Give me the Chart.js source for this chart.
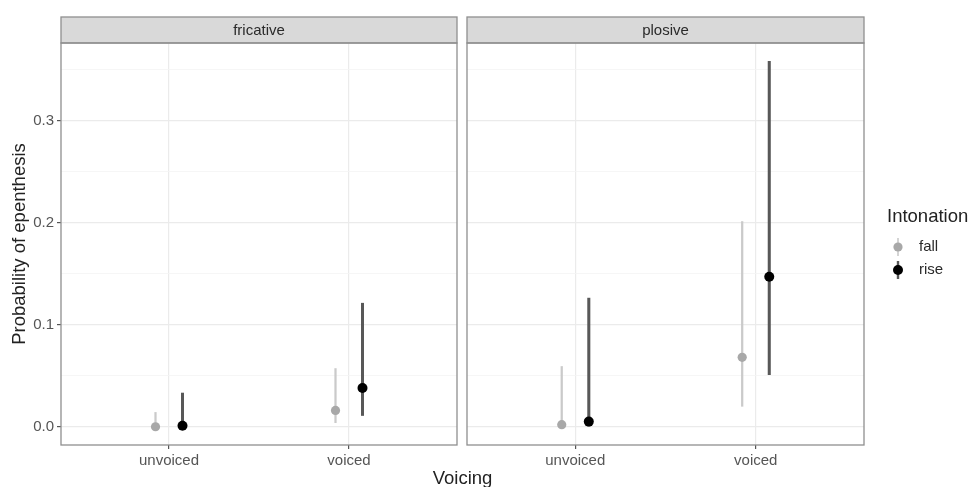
<!DOCTYPE html>
<html>
<head>
<meta charset="utf-8">
<script src="https://cdn.jsdelivr.net/npm/chart.js@4.4.1/dist/chart.umd.min.js"></script>
<style>
  html, body { margin: 0; padding: 0; background: #fff; }
  #wrap { position: relative; width: 971px; height: 487px; overflow: hidden;
          font-family: "Liberation Sans", Arial, sans-serif; }
  #wrap canvas { position: absolute; top: 0; }
  #xtitle { position: absolute; left: 0; width: 925px; top: 467px; text-align: center;
            font-size: 18.5px; line-height: 22px; color: #222; }
</style>
</head>
<body>
<div id="wrap">
  <canvas id="fricative" width="462" height="487" style="left:0"></canvas>
  <canvas id="plosive" width="509" height="487" style="left:462px"></canvas>
  <div id="xtitle">Voicing</div>
</div>
<script>
// Categories
const voicing = ['unvoiced', 'voiced'];
const intonation = ['fall', 'rise'];

// Y-axis ticks
const yMajorTicks = [0.0, 0.1, 0.2, 0.3];
const yMinorTicks = [0.05, 0.15, 0.25, 0.35];

// Fricatives: estimate and interval per voicing level
const fricativeFallEst  = [0.000, 0.016];
const fricativeFallLow  = [0.000, 0.004];
const fricativeFallHigh = [0.014, 0.057];
const fricativeRiseEst  = [0.001, 0.038];
const fricativeRiseLow  = [0.000, 0.011];
const fricativeRiseHigh = [0.033, 0.121];

// Plosives
const plosiveFallEst  = [0.002, 0.068];
const plosiveFallLow  = [0.000, 0.020];
const plosiveFallHigh = [0.059, 0.201];
const plosiveRiseEst  = [0.005, 0.147];
const plosiveRiseLow  = [0.000, 0.051];
const plosiveRiseHigh = [0.126, 0.358];

const FONT = '"Liberation Sans", Arial, sans-serif';

// Appearance of each intonation group
const groupStyle = {
  fall: { point: '#a8a8a8', line: '#cacaca', lineWidth: 1.6, radius: 4.6, dodge: -0.075 },
  rise: { point: '#000000', line: '#585858', lineWidth: 2.4, radius: 5.0, dodge: 0.075 }
};

const isMajor = v => yMajorTicks.some(m => Math.abs(m - v) < 1e-9);

// Panel frame and facet strip
const facetPlugin = {
  id: 'facet',
  afterDraw(chart, args, opts) {
    const { ctx, chartArea: a } = chart;
    ctx.save();
    // strip
    ctx.fillStyle = '#d9d9d9';
    ctx.fillRect(a.left, 17, a.right - a.left, a.top - 17);
    ctx.strokeStyle = '#8f8f8f';
    ctx.lineWidth = 1.3;
    ctx.strokeRect(a.left, 17, a.right - a.left, a.top - 17);
    ctx.fillStyle = '#2a2a2a';
    ctx.font = '15px ' + FONT;
    ctx.textAlign = 'center';
    ctx.textBaseline = 'middle';
    ctx.fillText(opts.title, (a.left + a.right) / 2, (17 + a.top) / 2 + 0.5);
    // panel border
    ctx.strokeRect(a.left, a.top, a.right - a.left, a.bottom - a.top);
    ctx.restore();
  }
};

// Legend drawn to the right of the last panel
const legendPlugin = {
  id: 'pointrangeLegend',
  afterDraw(chart, args, opts) {
    if (!opts.show) return;
    const { ctx } = chart;
    const x0 = opts.x;
    ctx.save();
    ctx.fillStyle = '#222';
    ctx.font = '18.5px ' + FONT;
    ctx.textAlign = 'left';
    ctx.textBaseline = 'middle';
    ctx.fillText('Intonation', x0, 217);
    intonation.forEach((name, i) => {
      const s = groupStyle[name];
      const y = 247 + i * 23;
      const kx = x0 + 11;
      ctx.strokeStyle = s.line;
      ctx.lineWidth = s.lineWidth;
      ctx.beginPath();
      ctx.moveTo(kx, y - 9);
      ctx.lineTo(kx, y + 9);
      ctx.stroke();
      ctx.fillStyle = s.point;
      ctx.beginPath();
      ctx.arc(kx, y, s.radius, 0, Math.PI * 2);
      ctx.fill();
      ctx.fillStyle = '#2a2a2a';
      ctx.font = '15px ' + FONT;
      ctx.fillText(name, x0 + 32, y);
    });
    ctx.restore();
  }
};

function buildDatasets(series) {
  const points = [], ranges = [];
  series.forEach(sr => {
    const s = groupStyle[sr.name];
    points.push({
      type: 'scatter',
      label: sr.name,
      data: sr.est.map((v, i) => ({ x: i + 1 + s.dodge, y: v })),
      pointRadius: s.radius,
      pointBackgroundColor: s.point,
      pointBorderWidth: 0,
      order: 0
    });
    ranges.push({
      type: 'bar',
      label: sr.name + ' interval',
      data: sr.low.map((lo, i) => ({ x: i + 1 + s.dodge, y: [lo, sr.high[i]] })),
      backgroundColor: s.line,
      borderWidth: 0,
      barThickness: s.lineWidth,
      grouped: false,
      order: 1
    });
  });
  return points.concat(ranges);
}

function makePanel(id, title, series, showY, showLegend) {
  const padLeft = showY ? 0 : 4;
  const padRight = showY ? 4 : 107;
  return new Chart(document.getElementById(id), {
    type: 'scatter',
    data: { datasets: buildDatasets(series) },
    plugins: [facetPlugin, legendPlugin],
    options: {
      responsive: false,
      animation: false,
      layout: { padding: { top: 43, left: padLeft, right: padRight, bottom: 0 } },
      plugins: {
        legend: { display: false },
        tooltip: { enabled: false },
        facet: { title },
        pointrangeLegend: { show: showLegend, x: 425 }
      },
      scales: {
        x: {
          type: 'linear',
          min: 0.4,
          max: 2.6,
          offset: false,
          afterBuildTicks: s => { s.ticks = voicing.map((_, i) => ({ value: i + 1 })); },
          afterFit: s => { s.height = 42; },
          border: { display: false },
          grid: { color: '#ebebeb', lineWidth: 1.2, tickLength: 4, tickColor: '#555', offset: false },
          ticks: {
            autoSkip: false,
            maxRotation: 0,
            padding: 3,
            color: '#555',
            font: { size: 15, family: FONT },
            callback: v => voicing[Math.round(v) - 1] ?? ''
          }
        },
        y: {
          type: 'linear',
          min: -0.0179,
          max: 0.3759,
          afterBuildTicks: s => {
            s.ticks = yMajorTicks.concat(yMinorTicks).sort((a, b) => a - b).map(v => ({ value: v }));
          },
          afterFit: s => { s.width = showY ? 61 : 0; },
          border: { display: false },
          grid: {
            color: c => isMajor(c.tick.value) ? '#ebebeb' : '#f4f4f4',
            lineWidth: c => isMajor(c.tick.value) ? 1.2 : 0.8,
            drawTicks: showY,
            tickLength: 4,
            tickColor: c => isMajor(c.tick.value) ? '#555' : 'rgba(0,0,0,0)'
          },
          ticks: {
            display: showY,
            padding: 3,
            color: '#555',
            font: { size: 15, family: FONT },
            callback: v => isMajor(v) ? v.toFixed(1) : ''
          },
          title: {
            display: showY,
            text: 'Probability of epenthesis',
            color: '#222',
            font: { size: 18.5, family: FONT },
            padding: { top: 9, bottom: 0 }
          }
        }
      }
    }
  });
}

makePanel('fricative', 'fricative', [
  { name: 'fall', est: fricativeFallEst, low: fricativeFallLow, high: fricativeFallHigh },
  { name: 'rise', est: fricativeRiseEst, low: fricativeRiseLow, high: fricativeRiseHigh }
], true, false);

makePanel('plosive', 'plosive', [
  { name: 'fall', est: plosiveFallEst, low: plosiveFallLow, high: plosiveFallHigh },
  { name: 'rise', est: plosiveRiseEst, low: plosiveRiseLow, high: plosiveRiseHigh }
], false, true);
</script>
</body>
</html>
